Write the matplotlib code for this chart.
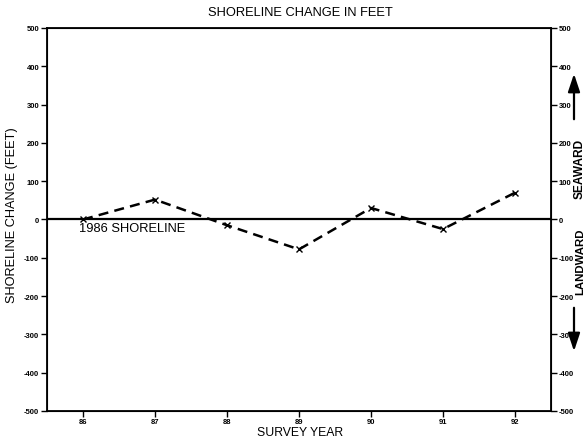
import numpy as np
import matplotlib.pyplot as plt

plt.rcParams['font.family'] = ['Liberation Sans', 'DejaVu Sans']

# survey data
years = [86, 87, 88, 89, 90, 91, 92]
year_labels = ['86', '87', '88', '89', '90', '91', '92']
change_ft = [0, 52, -15, -78, 30, -25, 70]
y_ticks = [-500, -400, -300, -200, -100, 0, 100, 200, 300, 400, 500]

fig = plt.figure(figsize=(5.87, 4.39), dpi=100)
ax = fig.add_axes([47 / 587, 1 - 412 / 439, 504 / 587, 383 / 439])

ax.axhline(0, color='black', lw=1.6, zorder=2)
ax.plot(years, change_ft, color='black', lw=1.8, ls=(0, (4, 2.5)),
        marker='x', ms=4, mew=1.0, zorder=3)

ax.set_xlim(85.5, 92.5)
ax.set_ylim(-500, 500)
ax.set_xticks(years)
ax.set_xticklabels(year_labels, fontweight='bold')
ax.set_yticks(y_ticks)
ax.set_yticklabels([str(v) for v in y_ticks], fontweight='bold')
ax.tick_params(axis='both', direction='out', length=4, width=1,
               labelsize=5.5, pad=1.5)
ax.tick_params(axis='x', pad=1)

for s in ax.spines.values():
    s.set_linewidth(1.3)

ax2 = ax.twinx()
ax2.set_ylim(-500, 500)
ax2.set_yticks(y_ticks)
ax2.set_yticklabels([str(v) for v in y_ticks], fontweight='bold')
ax2.tick_params(axis='y', direction='out', length=4, width=1,
                labelsize=5.5, pad=1.5)

ax.text(86 - 0.06, -22, '1986 SHORELINE', fontsize=9.3, va='center', ha='left')

fig.text(300 / 587, 1 - 13 / 439, 'SHORELINE CHANGE IN FEET', fontsize=9.3,
         ha='center', va='center')
fig.text(300 / 587, 1 - 433 / 439, 'SURVEY YEAR', fontsize=8.8,
         ha='center', va='center')
fig.text(12 / 587, 1 - 215 / 439, 'SHORELINE CHANGE (FEET)', fontsize=9.2,
         rotation=90, ha='center', va='center')

fig.text(580 / 587, 1 - 169 / 439, 'SEAWARD', fontsize=8.6, fontweight='bold',
         rotation=90, ha='center', va='center')
fig.text(580 / 587, 1 - 262 / 439, 'LANDWARD', fontsize=8.2, fontweight='bold',
         rotation=90, ha='center', va='center')

arrow_style = dict(arrowstyle='-|>,head_length=0.9,head_width=0.3', lw=1.6,
                   color='black', mutation_scale=12)
fig.add_artist(plt.matplotlib.patches.FancyArrowPatch(
    (574 / 587, 1 - 123 / 439), (574 / 587, 1 - 72 / 439),
    transform=fig.transFigure, **arrow_style))
fig.add_artist(plt.matplotlib.patches.FancyArrowPatch(
    (574 / 587, 1 - 306 / 439), (574 / 587, 1 - 355 / 439),
    transform=fig.transFigure, **arrow_style))

fig.savefig('out.png', dpi=100)
